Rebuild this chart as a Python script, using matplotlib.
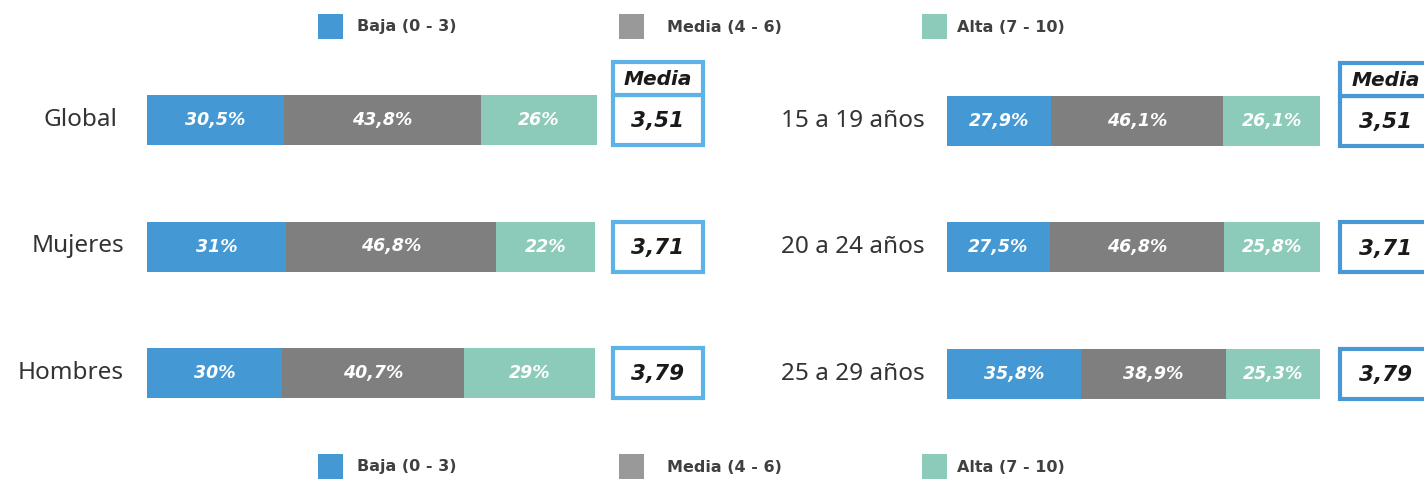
import matplotlib
matplotlib.use("Agg")
import matplotlib.pyplot as plt
from matplotlib.patches import Rectangle

plt.rcParams['font.family'] = ['Noto Sans', 'DejaVu Sans']
BOLD_FAM = ['DejaVu Sans']

# ---------------- data ----------------
left_categories = ["Global", "Mujeres", "Hombres"]
left_baja = [30.5, 31.0, 30.0]
left_media = [43.8, 46.8, 40.7]
left_alta = [26.0, 22.0, 29.0]
left_labels_baja = ["30,5%", "31%", "30%"]
left_labels_media = ["43,8%", "46,8%", "40,7%"]
left_labels_alta = ["26%", "22%", "29%"]
left_means = ["3,51", "3,71", "3,79"]

right_categories = ["15 a 19 años", "20 a 24 años", "25 a 29 años"]
right_baja = [27.9, 27.5, 35.8]
right_media = [46.1, 46.8, 38.9]
right_alta = [26.1, 25.8, 25.3]
right_labels_baja = ["27,9%", "27,5%", "35,8%"]
right_labels_media = ["46,1%", "46,8%", "38,9%"]
right_labels_alta = ["26,1%", "25,8%", "25,3%"]
right_means = ["3,51", "3,71", "3,79"]

legend_labels = ["Baja (0 - 3)", "Media (4 - 6)", "Alta (7 - 10)"]
mean_header = "Media"

# ---------------- style ----------------
C_BAJA = "#4499D5"
C_MEDIA = "#7F7F7F"
C_MEDIA_LEG = "#999999"
C_ALTA = "#8CCBB9"
W, H = 1424, 479
DPI = 100

fig = plt.figure(figsize=(W / DPI, H / DPI), dpi=DPI)

PX_PER_CAT = 126.5
TOP_PX, BOT_PX = 40, 440


def make_axes(left_px, scale, center0_px):
    ax = fig.add_axes([left_px / W, 1 - BOT_PX / H, (W - left_px) / W, (BOT_PX - TOP_PX) / H])
    ax.set_xlim(0, (W - left_px) / scale)
    ax.set_ylim((BOT_PX - center0_px) / PX_PER_CAT, (TOP_PX - center0_px) / PX_PER_CAT)
    ax.axis("off")
    return ax


def draw_panel(ax, cats, baja, media, alta, lb, lm, la, means, box_x0, box_w, box_color,
               label_right_px, scale, left_px):
    ys = list(range(len(cats)))
    bh = 50 / PX_PER_CAT
    ax.barh(ys, baja, height=bh, color=C_BAJA, linewidth=0)
    ax.barh(ys, media, left=baja, height=bh, color=C_MEDIA, linewidth=0)
    lefts2 = [b + m for b, m in zip(baja, media)]
    ax.barh(ys, alta, left=lefts2, height=bh, color=C_ALTA, linewidth=0)
    tk = dict(color="white", fontsize=12.5, fontweight="bold", fontstyle="italic",
              ha="center", va="center", family=BOLD_FAM)
    for i in ys:
        ax.text(baja[i] / 2, i, lb[i], **tk)
        ax.text(baja[i] + media[i] / 2, i, lm[i], **tk)
        ax.text(lefts2[i] + alta[i] / 2, i, la[i], **tk)
        # category label
        ax.text((label_right_px[i] - left_px) / scale, i, cats[i], ha="right", va="center",
                fontsize=17.5, color="#333333", clip_on=False)
        # mean box
        ax.add_patch(Rectangle((box_x0, i - bh / 2), box_w, bh, facecolor="white",
                               edgecolor=box_color, linewidth=3, clip_on=True))
        ax.text(box_x0 + box_w / 2, i + 0.01, means[i], ha="center", va="center",
                fontsize=15.5, fontweight="bold", fontstyle="italic", color="#1a1a1a",
                family=BOLD_FAM)
    hh = 33 / PX_PER_CAT
    ax.add_patch(Rectangle((box_x0, -bh / 2 - hh), box_w, hh, facecolor="white",
                           edgecolor=box_color, linewidth=3))
    ax.text(box_x0 + box_w / 2, -bh / 2 - hh / 2 + 0.01, mean_header, ha="center", va="center",
            fontsize=14.5, fontweight="bold", fontstyle="italic", color="#1a1a1a",
            family=BOLD_FAM)


# left panel
sL = 4.49
axL = make_axes(147, sL, 120)
draw_panel(axL, left_categories, left_baja, left_media, left_alta,
           left_labels_baja, left_labels_media, left_labels_alta, left_means,
           (613 - 147) / sL, 90 / sL, "#5DB3E8", [117, 124, 124], sL, 147)

# right panel
sR = 3.73
axR = make_axes(947, sR, 121)
draw_panel(axR, right_categories, right_baja, right_media, right_alta,
           right_labels_baja, right_labels_media, right_labels_alta, right_means,
           (1340 - 947) / sR, 92 / sR, "#4A98D3", [925, 925, 925], sR, 947)

# legends (top and bottom)
leg_colors = [C_BAJA, C_MEDIA_LEG, C_ALTA]
leg_sq_x = [318, 619, 922]
leg_txt_x = [357, 667, 957]
for yc in (27, 467):
    for c, sx, tx, lab in zip(leg_colors, leg_sq_x, leg_txt_x, legend_labels):
        fig.patches.append(Rectangle((sx / W, 1 - (yc + 12) / H), 25 / W, 25 / H,
                                     transform=fig.transFigure, facecolor=c, linewidth=0))
        fig.text(tx / W, 1 - yc / H, lab, ha="left", va="center", fontsize=11.5,
                 fontweight="bold", color="#404040", family=BOLD_FAM)

fig.savefig("out.png", dpi=DPI)
